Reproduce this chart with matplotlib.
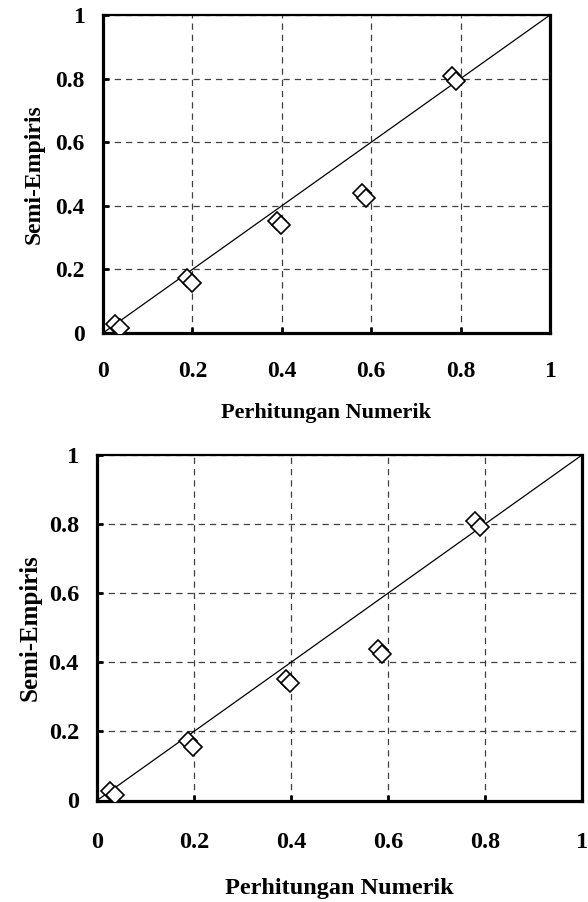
import matplotlib
matplotlib.use("Agg")
import matplotlib.pyplot as plt
import numpy as np

# two overlapping series (numerical vs semi-empirical)
x_a = [0.027, 0.187, 0.389, 0.579, 0.780]
y_a = [0.028, 0.172, 0.353, 0.439, 0.808]
x_b = [0.038, 0.198, 0.398, 0.588, 0.790]
y_b = [0.015, 0.156, 0.339, 0.425, 0.793]

ticks = [0, 0.2, 0.4, 0.6, 0.8, 1]
tick_labels = ["0", "0.2", "0.4", "0.6", "0.8", "1"]
xlabel = "Perhitungan Numerik"
ylabel = "Semi-Empiris"

plt.rcParams["font.family"] = ["Liberation Serif", "DejaVu Serif"]
plt.rcParams["font.weight"] = "bold"

fig = plt.figure(figsize=(5.88, 9.02), dpi=100)

panels = [
    # rect, tick fs, xlabel fs, ylabel fs, xtick pad, xlabel pad, ylabel pad
    ([103 / 588, 1 - 333 / 902, 447 / 588, 318 / 902], 17, 16, 17, 20, 15, 8),
    ([97 / 588, 1 - 800.5 / 902, 485 / 588, 345.5 / 902], 17.5, 17.5, 18, 23, 18, 5),
]

for rect, fs, xfs, yfs, tpad, xpad, ypad in panels:
    ax = fig.add_axes(rect)
    ax.set_xlim(0, 1)
    ax.set_ylim(0, 1)

    ax.plot([0, 1], [0, 1], color="black", lw=0.9, zorder=2)
    ax.plot(x_a, y_a, ls="none", marker="D", ms=9.5, mfc="white", mec="black",
            mew=1.2, zorder=3)
    ax.plot(x_b, y_b, ls="none", marker="D", ms=9.5, mfc="white", mec="black",
            mew=1.2, zorder=4)

    ax.set_xticks(ticks)
    ax.set_yticks(ticks)
    ax.set_xticklabels(tick_labels, fontsize=fs, fontweight="bold")
    ax.set_yticklabels(tick_labels, fontsize=fs, fontweight="bold")
    ax.tick_params(direction="in", length=4, width=2, pad=tpad, axis="x")
    ax.tick_params(direction="in", length=4, width=2, pad=13, axis="y")

    ax.grid(True, ls=(0, (5, 4)), color="0.25", lw=0.9)
    ax.set_axisbelow(True)

    for side in ["left", "bottom", "right"]:
        ax.spines[side].set_linewidth(2.3)
    ax.spines["top"].set_linewidth(1.6)

    ax.set_xlabel(xlabel, fontsize=xfs, fontweight="bold", labelpad=xpad)
    ax.set_ylabel(ylabel, fontsize=yfs, fontweight="bold", labelpad=ypad)

fig.savefig("out.png", dpi=100)
plt.close(fig)
